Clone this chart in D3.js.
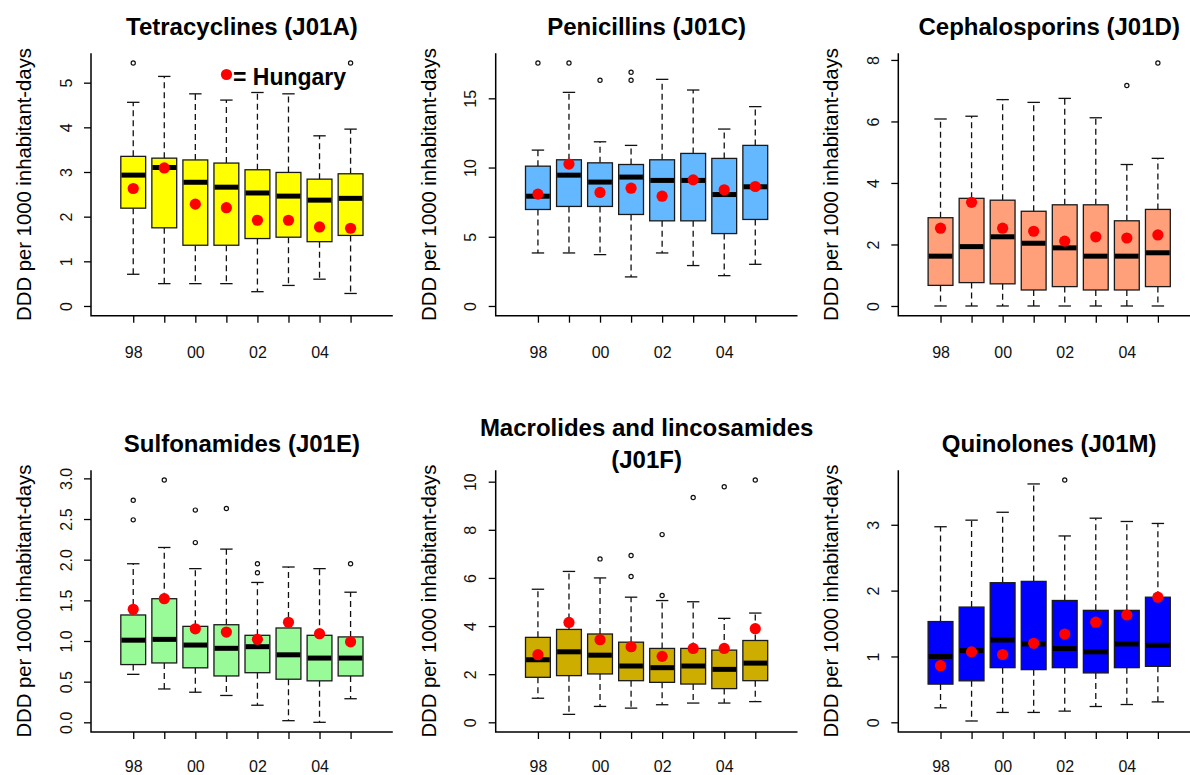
<!DOCTYPE html>
<html>
<head>
<meta charset="utf-8">
<script src="https://cdn.jsdelivr.net/npm/d3@7"></script>
<style>
  body { margin: 0; background: #fff; }
  svg { display: block; font-family: "Liberation Sans", Arial, sans-serif; }
</style>
</head>
<body>
<div class="chart"></div>
<script>
// years on the x axis, only every other one is labelled
const years = ["98", "99", "00", "01", "02", "03", "04", "05"];
const tickLabels = ["98", "", "00", "", "02", "", "04", ""];

// box stats per year: [lower whisker, q1, median, q3, upper whisker]
const tetraStats = [
  [0.71, 2.19, 2.93, 3.35, 4.56],
  [0.50, 1.75, 3.10, 3.31, 5.14],
  [0.50, 1.36, 2.77, 3.27, 4.75],
  [0.50, 1.36, 2.66, 3.20, 4.61],
  [0.32, 1.51, 2.53, 3.05, 4.78],
  [0.46, 1.54, 2.46, 2.99, 4.75],
  [0.60, 1.44, 2.37, 2.84, 3.81],
  [0.28, 1.58, 2.41, 2.96, 3.96],
];
const tetraOutliers = [[0, 5.44], [7, 5.44]];
const tetraHungary = [2.63, 3.09, 2.28, 2.20, 1.92, 1.92, 1.77, 1.74];

const peniStats = [
  [3.83, 6.97, 7.93, 10.10, 11.26],
  [3.83, 7.19, 9.45, 10.56, 15.43],
  [3.71, 7.19, 8.95, 10.34, 11.86],
  [2.10, 6.61, 9.31, 10.22, 11.60],
  [3.83, 6.15, 9.07, 10.56, 16.37],
  [2.92, 6.15, 9.07, 11.02, 15.60],
  [2.19, 5.23, 8.05, 10.66, 12.78],
  [3.01, 6.25, 8.61, 11.60, 14.40],
];
const peniOutliers = [[0, 17.55], [1, 17.55], [2, 16.30], [3, 16.88], [3, 16.30]];
const peniHungary = [8.08, 10.25, 8.20, 8.51, 7.93, 9.11, 8.39, 8.63];

const cephStats = [
  [0, 0.67, 1.62, 2.87, 6.08],
  [0, 0.76, 1.93, 3.50, 6.17],
  [0, 0.72, 2.25, 3.44, 6.71],
  [0, 0.52, 2.04, 3.08, 6.62],
  [0, 0.63, 1.89, 3.29, 6.75],
  [0, 0.52, 1.62, 3.29, 6.12],
  [0, 0.52, 1.62, 2.77, 4.60],
  [0, 0.63, 1.73, 3.14, 4.80],
];
const cephOutliers = [[6, 7.17], [7, 7.90]];
const cephHungary = [2.53, 3.37, 2.53, 2.43, 2.11, 2.25, 2.21, 2.31];

const sulfStats = [
  [0.59, 0.71, 1.01, 1.32, 1.95],
  [0.41, 0.73, 1.02, 1.52, 2.15],
  [0.37, 0.67, 0.95, 1.18, 1.89],
  [0.33, 0.57, 0.91, 1.20, 2.13],
  [0.21, 0.61, 0.93, 1.07, 1.72],
  [0.02, 0.53, 0.83, 1.16, 1.91],
  [0.00, 0.51, 0.79, 1.07, 1.89],
  [0.29, 0.57, 0.79, 1.05, 1.60],
];
const sulfOutliers = [[0, 2.73], [0, 2.49], [1, 2.98], [2, 2.61], [2, 2.21],
  [3, 2.63], [4, 1.95], [4, 1.84], [7, 1.95]];
const sulfHungary = [1.39, 1.52, 1.15, 1.11, 1.02, 1.23, 1.09, 0.99];

const macroStats = [
  [1.00, 1.87, 2.60, 3.53, 5.53],
  [0.33, 1.94, 2.93, 3.86, 6.27],
  [0.66, 2.01, 2.79, 3.67, 6.00],
  [0.59, 1.73, 2.34, 3.33, 5.20],
  [0.73, 1.66, 2.27, 3.07, 5.06],
  [0.80, 1.59, 2.34, 3.07, 5.01],
  [0.80, 1.40, 2.20, 3.00, 4.32],
  [0.86, 1.73, 2.46, 3.40, 4.54],
];
const macroOutliers = [[2, 6.79], [3, 6.93], [3, 6.06], [4, 7.80], [4, 5.27],
  [5, 9.34], [6, 9.79], [7, 10.07]];
const macroHungary = [2.81, 4.15, 3.43, 3.14, 2.74, 3.07, 3.07, 3.89];

const quinStats = [
  [0.22, 0.58, 1.00, 1.53, 2.97],
  [0.02, 0.63, 1.09, 1.75, 3.07],
  [0.15, 0.83, 1.25, 2.12, 3.19],
  [0.15, 0.80, 1.19, 2.14, 3.62],
  [0.17, 0.83, 1.12, 1.85, 2.83],
  [0.24, 0.75, 1.07, 1.70, 3.10],
  [0.27, 0.83, 1.19, 1.70, 3.05],
  [0.31, 0.85, 1.17, 1.90, 3.02],
];
const quinOutliers = [[4, 3.68]];
const quinHungary = [0.86, 1.07, 1.03, 1.20, 1.34, 1.52, 1.63, 1.90];

const titles = [
  ["Tetracyclines (J01A)"],
  ["Penicillins (J01C)"],
  ["Cephalosporins (J01D)"],
  ["Sulfonamides (J01E)"],
  ["Macrolides and lincosamides", "(J01F)"],
  ["Quinolones (J01M)"],
];
const yTicks = [
  [0, 1, 2, 3, 4, 5],
  [0, 5, 10, 15],
  [0, 2, 4, 6, 8],
  [0, 0.5, 1, 1.5, 2, 2.5, 3],
  [0, 2, 4, 6, 8, 10],
  [0, 1, 2, 3],
];
const yLabel = "DDD per 1000 inhabitant-days";

const panels = [
  { stats: tetraStats, out: tetraOutliers, hu: tetraHungary, fill: "#FFFF00", fmt: d3.format("d") },
  { stats: peniStats, out: peniOutliers, hu: peniHungary, fill: "#63B8FF", fmt: d3.format("d") },
  { stats: cephStats, out: cephOutliers, hu: cephHungary, fill: "#FFA07A", fmt: d3.format("d") },
  { stats: sulfStats, out: sulfOutliers, hu: sulfHungary, fill: "#98FB98", fmt: d3.format(".1f") },
  { stats: macroStats, out: macroOutliers, hu: macroHungary, fill: "#CDAD00", fmt: d3.format("d") },
  { stats: quinStats, out: quinOutliers, hu: quinHungary, fill: "#0000FF", fmt: d3.format("d") },
];

const width = 1190, height = 775;
// plot regions (the panels were pasted together, so each column sits a bit differently)
const colLeft = [91, 495.7, 898.3];
const rows = [
  { top: 53.3, bottom: 315.7, labelY: 42.6 },
  { top: 470.3, bottom: 732, labelY: 39.5 }, // pulled up a touch so the labels stay inside
];
const unit = 31.05; // px per box slot

const svg = d3.select(".chart").append("svg")
  .attr("width", width).attr("height", height)
  .attr("viewBox", [0, 0, width, height]);

panels.forEach((p, k) => {
  const left = colLeft[k % 3];
  const { top, bottom, labelY } = rows[Math.floor(k / 3)];
  const right = left + 9.72 * unit;

  // R style: xlim c(0, 9), ylim c(0, max) both padded by 4%
  const x = d3.scaleLinear().domain([-0.36, 9.36]).range([left, right]);
  const ymax = d3.max([...p.stats.map((s) => s[4]), ...p.out.map((o) => o[1])]);
  const y = d3.scaleLinear().domain([-0.04 * ymax, 1.04 * ymax]).range([bottom, top]);

  const g = svg.append("g");
  const bw = 0.4; // half box width
  const sw = 0.2; // half staple width

  const box = g.selectAll("g.box")
    .data(p.stats)
    .join("g")
    .attr("class", "box");

  // whiskers
  box.append("line")
    .attr("x1", (d, i) => x(i + 1)).attr("x2", (d, i) => x(i + 1))
    .attr("y1", (d) => y(d[3])).attr("y2", (d) => y(d[4]))
    .attr("stroke", "#111").attr("stroke-width", 1.3).attr("stroke-dasharray", "6,4");
  box.append("line")
    .attr("x1", (d, i) => x(i + 1)).attr("x2", (d, i) => x(i + 1))
    .attr("y1", (d) => y(d[1])).attr("y2", (d) => y(d[0]))
    .attr("stroke", "#111").attr("stroke-width", 1.3).attr("stroke-dasharray", "6,4");

  // staples
  [0, 4].forEach((j) => {
    box.append("line")
      .attr("x1", (d, i) => x(i + 1 - sw)).attr("x2", (d, i) => x(i + 1 + sw))
      .attr("y1", (d) => y(d[j])).attr("y2", (d) => y(d[j]))
      .attr("stroke", "#111").attr("stroke-width", 1.3);
  });

  box.append("rect")
    .attr("x", (d, i) => x(i + 1 - bw))
    .attr("width", x(2 * bw) - x(0))
    .attr("y", (d) => y(d[3]))
    .attr("height", (d) => y(d[1]) - y(d[3]))
    .attr("fill", p.fill)
    .attr("stroke", "#1a1a1a").attr("stroke-width", 1.3);

  // median
  box.append("line")
    .attr("x1", (d, i) => x(i + 1 - bw) + 0.6).attr("x2", (d, i) => x(i + 1 + bw) - 0.6)
    .attr("y1", (d) => y(d[2])).attr("y2", (d) => y(d[2]))
    .attr("stroke", "#000").attr("stroke-width", 5);

  // outliers
  g.selectAll("circle.out")
    .data(p.out)
    .join("circle")
    .attr("class", "out")
    .attr("cx", (d) => x(d[0] + 1)).attr("cy", (d) => y(d[1]))
    .attr("r", 2.1)
    .attr("fill", "none").attr("stroke", "#111").attr("stroke-width", 1.2);

  // Hungary points
  g.selectAll("circle.hu")
    .data(p.hu)
    .join("circle")
    .attr("class", "hu")
    .attr("cx", (d, i) => x(i + 1)).attr("cy", (d) => y(d))
    .attr("r", 5.6)
    .attr("fill", "#FF0000");

  // L shaped frame
  g.append("path")
    .attr("d", `M${left},${top}V${bottom}H${right}`)
    .attr("fill", "none").attr("stroke", "#000").attr("stroke-width", 1.5);

  // y axis
  const ya = g.append("g")
    .attr("transform", `translate(${left},0)`)
    .call(d3.axisLeft(y).tickValues(yTicks[k]).tickFormat(p.fmt).tickSize(7));
  ya.select(".domain").remove();
  ya.selectAll(".tick line").attr("stroke", "#000").attr("stroke-width", 1.3);
  ya.selectAll(".tick text")
    .attr("x", null).attr("dy", null)
    .attr("transform", "translate(-19.5,0) rotate(-90)")
    .attr("text-anchor", "middle")
    .attr("fill", "#111")
    .style("font-size", "16px")
    .style("font-family", "Liberation Sans, Arial, sans-serif");

  // x axis
  const xa = g.append("g")
    .attr("transform", `translate(0,${bottom})`)
    .call(d3.axisBottom(x).tickValues(d3.range(1, years.length + 1))
      .tickFormat((d, i) => tickLabels[i]).tickSize(7));
  xa.select(".domain").remove();
  xa.selectAll(".tick line").attr("stroke", "#000").attr("stroke-width", 1.3);
  xa.selectAll(".tick text")
    .attr("y", labelY).attr("dy", null)
    .attr("fill", "#111")
    .style("font-size", "16px")
    .style("font-family", "Liberation Sans, Arial, sans-serif");

  // y axis title
  g.append("text")
    .attr("transform", `translate(${left - 60},${(top + bottom) / 2}) rotate(-90)`)
    .attr("text-anchor", "middle")
    .style("font-size", "20.3px")
    .attr("fill", "#000")
    .text(yLabel);

  // title, one or two lines
  const lines = titles[k];
  g.append("g").selectAll("text")
    .data(lines)
    .join("text")
    .attr("x", (left + right) / 2)
    .attr("y", (d, i) => lines.length === 1 ? top - 18.3 : top - 34.3 + i * 32)
    .attr("text-anchor", "middle")
    .style("font-size", "24px")
    .style("font-weight", "bold")
    .attr("fill", "#000")
    .text((d) => d);

  if (k === 0) {
    g.append("circle").attr("cx", 226.5).attr("cy", 74.5).attr("r", 5.6).attr("fill", "#FF0000");
    g.append("text")
      .attr("x", 233).attr("y", 85)
      .style("font-size", "23px").style("font-weight", "bold")
      .attr("fill", "#000")
      .text("= Hungary");
  }
});
</script>
</body>
</html>
